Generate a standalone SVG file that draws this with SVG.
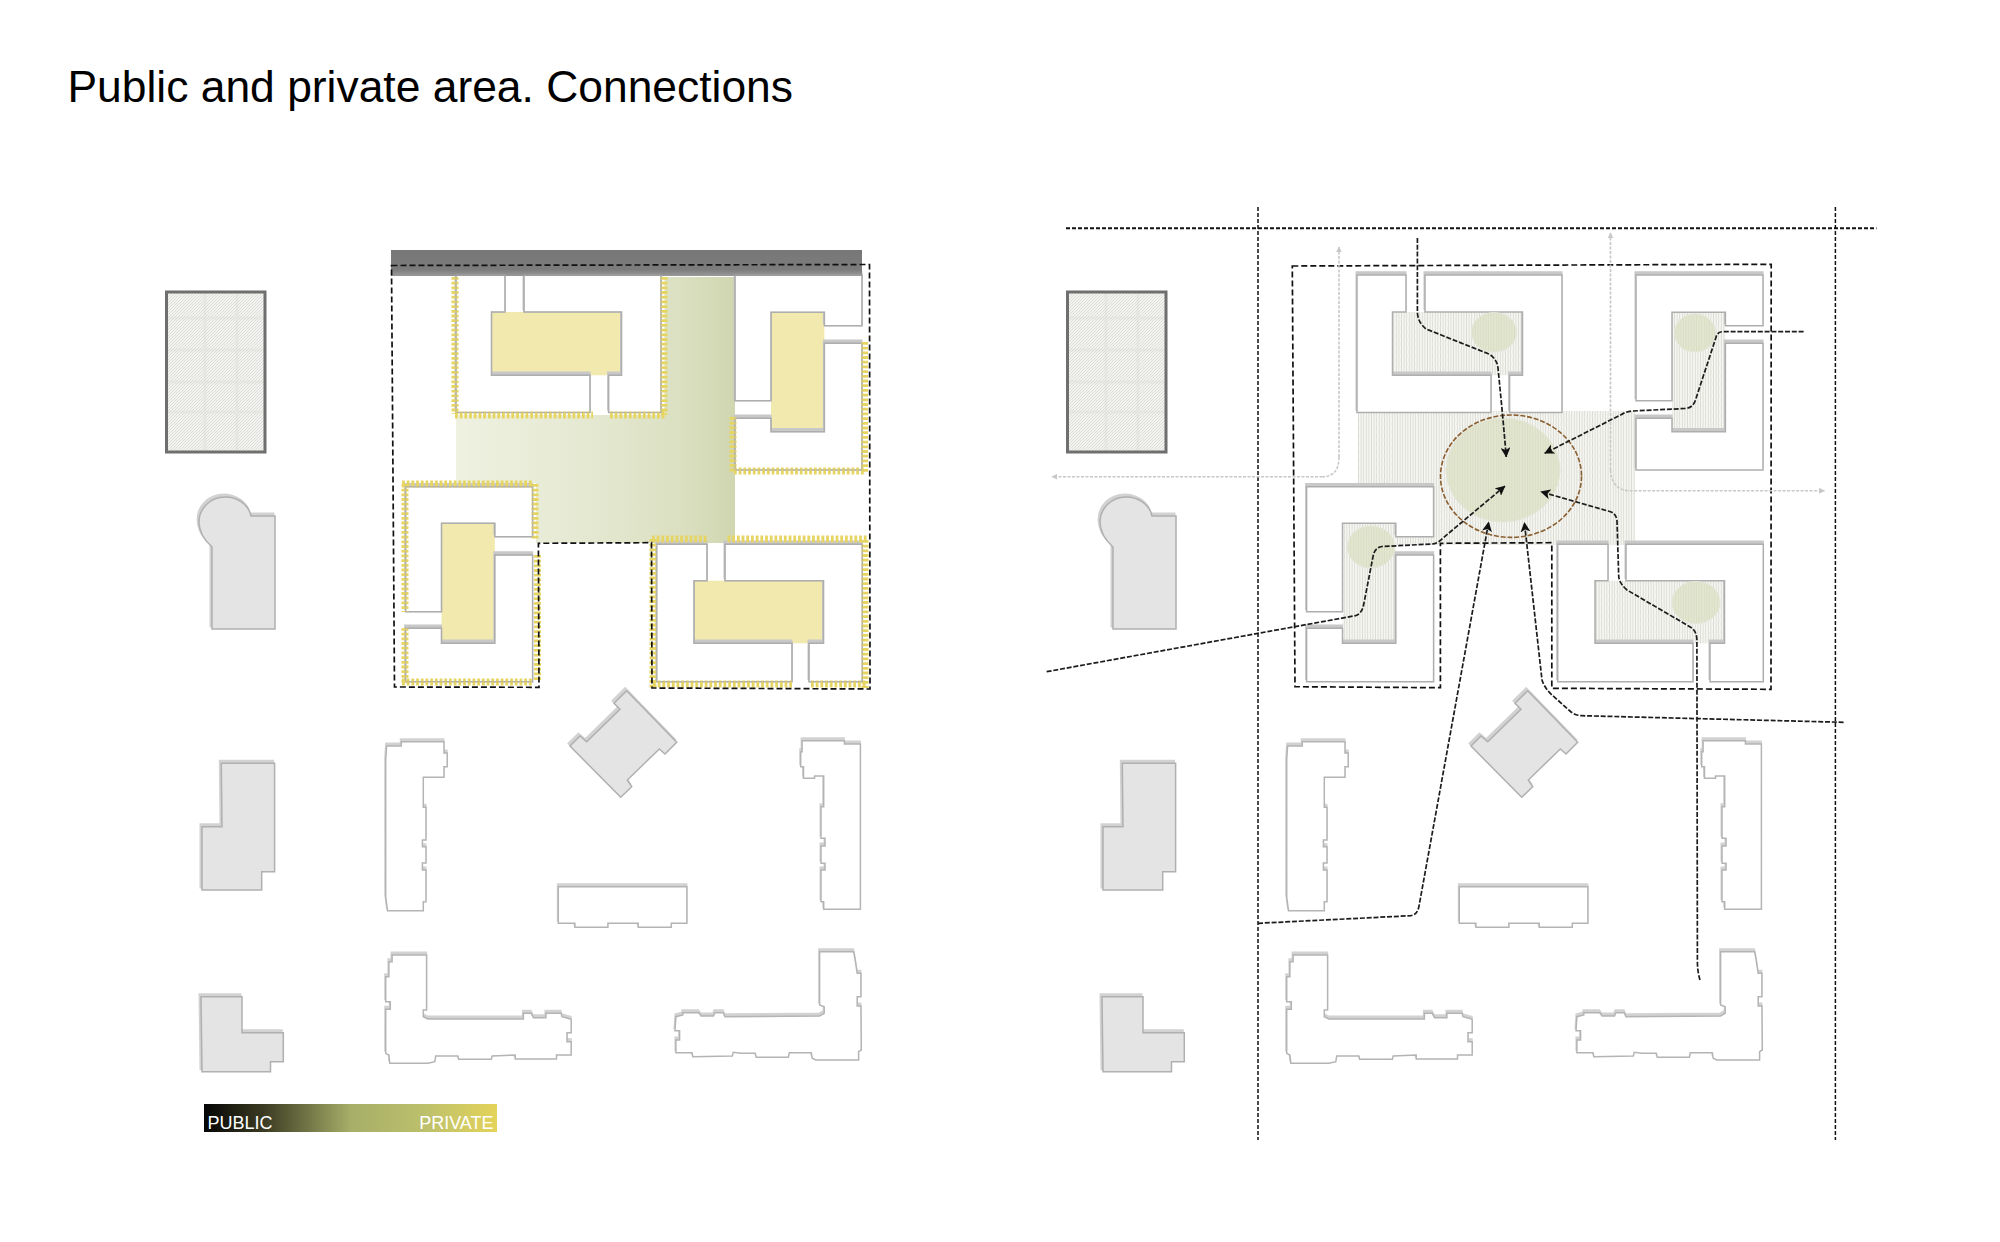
<svg xmlns="http://www.w3.org/2000/svg" xmlns:xlink="http://www.w3.org/1999/xlink" width="2000" height="1242" viewBox="0 0 2000 1242">
<style>
text{font-family:"Liberation Sans",Arial,sans-serif}
.title{font-size:44.4px;fill:#000}
.leg{font-size:18px;fill:#fff}
.hy{fill:none;stroke:#e6d562;stroke-width:7;stroke-dasharray:2.800 1.900}
.bd{fill:none;stroke:#111;stroke-width:1.700;stroke-dasharray:6 3}
.road{fill:none;stroke:#111;stroke-width:1.500;stroke-dasharray:4 2}
.rte{fill:none;stroke:#1c1c1c;stroke-width:1.700;stroke-dasharray:5 1.800}
.lg{fill:none;stroke:#c8c8c8;stroke-width:1.600;stroke-dasharray:3 1.500}
.tree{fill:url(#pTree);stroke:#e4e6d8;stroke-width:1}
.lat{stroke:#e0e0dc;stroke-width:3;fill:none}
</style>
<defs>
<linearGradient id="gFade" gradientUnits="userSpaceOnUse" x1="456" y1="0" x2="735" y2="0"><stop offset="0" stop-color="#eff1e1"/><stop offset=".5" stop-color="#e4e8d0"/><stop offset=".8" stop-color="#dbe0c2"/><stop offset="1" stop-color="#d0d6b0"/></linearGradient>
<linearGradient id="gLeg"><stop offset="0" stop-color="#050505"/><stop offset=".2" stop-color="#3a3a22"/><stop offset=".5" stop-color="#a6ae68"/><stop offset=".75" stop-color="#bcc06c"/><stop offset="1" stop-color="#e4d35a"/></linearGradient>
<linearGradient id="gBar" x1="0" y1="0" x2="0" y2="1"><stop offset="0" stop-color="#777"/><stop offset=".75" stop-color="#7c7c7c"/><stop offset="1" stop-color="#999"/></linearGradient>
<pattern id="pDiag" width="3" height="3" patternUnits="userSpaceOnUse"><rect width="3" height="3" fill="#f3f3f1"/><path d="M0 3L3 0" stroke="#d6d6d2" stroke-width=".8"/></pattern>
<pattern id="pVert" width="2.600" height="8" patternUnits="userSpaceOnUse"><rect width="2.600" height="8" fill="#f7f7f3"/><path d="M1 0Q1.800 4 1 8" fill="none" stroke="#dadad3" stroke-width=".9"/></pattern>
<pattern id="pTree" width="2.600" height="8" patternUnits="userSpaceOnUse"><rect width="2.600" height="8" fill="#e3e6d0"/><path d="M1 0Q1.800 4 1 8" fill="none" stroke="#d9ddc3" stroke-width=".9"/></pattern>
<marker id="ah" viewBox="0 0 10 10" refX="9.500" refY="5" markerWidth="10" markerHeight="10" markerUnits="userSpaceOnUse" orient="auto"><path d="M0 0L10 5L0 10L2.500 5z" fill="#111"/></marker>
<marker id="ahg" viewBox="0 0 10 10" refX="9" refY="5" markerWidth="6" markerHeight="6" markerUnits="userSpaceOnUse" orient="auto"><path d="M0 0L10 5L0 10z" fill="#c8c8c8"/></marker>
<g id="rectB"><rect x="166.500" y="292" width="98.500" height="160" fill="url(#pDiag)"/><path class="lat" d="M205 293V451M237 293V451M168 318H264M168 350H264M168 382H264M168 412H264" opacity=".5"/><rect x="166.500" y="292" width="98.500" height="160" fill="none" stroke="#6f6f6f" stroke-width="3"/></g>
<g id="gShapes">
<path d="M212 629V547C202 538 199 530 199 522C199 508 211 497 225 497C238 497 249 505 251 516H275V629Z"/>
<path d="M221.300 763.300H274.600V871.700H261.700V890H202V826.700H222Z"/>
<path d="M201 996.700H242V1032.700H283.300V1061.700H270.500V1071.700H202Z"/>
<path d="M626.700 690.700L676.700 742.300L665 754L659.300 749L627.300 780L631.700 786.700L620.700 797.300L570 746L580 736L586.700 741.700L620 709.300L614 703.300Z"/>
</g>
<g id="wShapes">
<path d="M386.600 746H401.300V741.700H444V753H447.200V766.700H444V777.300H423.300V807.300H426V840H422.400V846.700H426V863H422.400V870H426V901.700H423.300V910.700H387.500L385.700 897V760Z"/>
<path d="M558.300 886.700H686.900V923.300H671.300V927.300H638.200V923.300H607.900V927.300H574.900V923.300H558.300Z"/>
<path d="M802.100 740.700H844.400V744H860.400V909.300H823.700V901.700H821V870H825V863.300H821V846H825V838.300H821V806.700H823.700V776H814.500V778.300H803.500V766.700H800.700V751.700H802.100Z"/>
<path d="M392.100 955H426.600V1010H423.300V1016.700L427.900 1019H523.400V1013.300H531.200L533.500 1017.700H545.900V1013.300H561.100L562 1016.700L571.200 1019.300V1032.700H567V1041.700H571.200V1055H556.500V1059H515.200V1055L492.200 1056L491.300 1059.300H458.700L457.800 1056H435.700L434.800 1061.700L427.900 1063.300H389.800L388.900 1055L385.700 1053.300V1009.300H390.300V1001.700H385.700V976.700H388.900V961.700H392.100Z"/>
<path d="M819.600 951.700H853.600L854.900 958.300L857.200 973.300H860.900V996.700H857.200V1006H860.900L861.300 1050L858.600 1051.700V1060H815.900L812.200 1058.300L811.300 1052.700H789.300L788.400 1057.300H756.200L755.300 1053.300H741L733.300 1052.300L732.300 1056L692.900 1056.700L692 1052.700H675.900V1040H679.600V1030.700H675L675.900 1016.700L682.800 1015V1012.700H698.800L701.100 1016H713.500L714.900 1012.700H723.200L725 1016.700L819.600 1016L824.200 1013.300V1006.700L819.600 1005Z"/>
</g>
<g id="pieces">
<path d="M456 275H505V312H491.500V375.300H590V412.500H456Z"/>
<path d="M524 275H661V412.500H608.600V375.300H621.500V312H524Z"/>
<path d="M735 275H862V325.700H824.400V312.300H771V400.700H735Z"/>
<path d="M735 418.300H771V431.700H824.400V343.300H862V470H735Z"/>
<path d="M405.600 486.700H532.600V536.700H494.800V523.300H441.500V611.700H405.600Z"/>
<path d="M405.600 628.300H441.500V643.300H494.800V555H532.600V681.700H405.600Z"/>
<path d="M656.700 544.300H707V580.700H694V643.300H792V681.700H656.700Z"/>
<path d="M725 544.300H862.300V681.700H809V643.300H823.500V580.700H725Z"/>
</g>
<g id="courts">
<rect x="491.500" y="312" width="130" height="63.300"/>
<rect x="771" y="312.300" width="53.400" height="119.400"/>
<rect x="441.500" y="523.300" width="53.300" height="120"/>
<rect x="694" y="580.700" width="129.500" height="62.600"/>
</g>
<g id="site">
<use href="#gShapes" transform="translate(-1.500 -2.500)" fill="#d2d2d2" stroke="#d2d2d2" stroke-width="2"/>
<use href="#wShapes" transform="translate(-.5 -2.500)" fill="#d2d2d2" stroke="#d2d2d2" stroke-width="2"/>
<use href="#gShapes" fill="#e4e4e4" stroke="#b0b0b0" stroke-width="1.500"/>
<use href="#wShapes" fill="#fff" stroke="#b4b4b4" stroke-width="1.500"/>
<use href="#rectB"/>
</g>
<g id="blockOutlines">
<use href="#pieces" transform="translate(-.5 -2.800)" fill="#c8c8c8" stroke="#c8c8c8" stroke-width="2"/>
<use href="#pieces" fill="#fff" stroke="#aeaeae" stroke-width="1.500"/>
</g>
</defs>
<rect width="2000" height="1242" fill="#fff"/>
<text class="title" x="67.500" y="102">Public and private area. Connections</text>

<g id="plan-left">
<use href="#site"/>
<path id="public-gradient" d="M664.500 277H735V543H536V483H456V415H664.500Z" fill="url(#gFade)"/>
<use href="#courts" fill="#f2e9ae"/>
<use href="#blockOutlines"/>
<rect id="street-bar" x="391" y="250" width="471" height="26" fill="url(#gBar)"/>
<path class="hy" d="M455 277V414M455 415H593M610 415H665M664 277V415M864.500 342V472M734 471H865M733 417V472M402 484H533M535 484V540M405 484V612M405 628V683M402 682H533M537.500 555V682M652 539H708M727.500 539H867M653 539V688M653 684H792M811 684H867M865 540V688"/>
<use href="#pieces" fill="none" stroke="#aeaeae" stroke-width="1.200" opacity=".6"/>
<path class="bd" d="M391.500 265.500L869.500 264.500L870 689L652 688L651.500 542.700L538.400 543.300L539 687.300L394.500 687Z"/>
</g>

<g id="legend">
<rect x="204" y="1104" width="293" height="28" fill="url(#gLeg)"/>
<text class="leg" x="207.500" y="1128.500">PUBLIC</text>
<text class="leg" x="493.500" y="1128.500" text-anchor="end">PRIVATE</text>
</g>

<g id="plan-right">
<use href="#site" x="901"/>
<rect id="right-public" x="1358" y="411" width="277" height="134" fill="url(#pVert)"/>
<g transform="translate(901 0)">
<use href="#courts" fill="url(#pVert)"/>
<use href="#blockOutlines"/>
</g>
<g id="trees">
<ellipse class="tree" cx="1494" cy="332.300" rx="22.500" ry="19.700"/>
<ellipse class="tree" cx="1695" cy="333" rx="20.500" ry="19"/>
<ellipse class="tree" cx="1371" cy="547" rx="23.600" ry="21"/>
<ellipse class="tree" cx="1696" cy="602.500" rx="24" ry="21"/>
<ellipse class="tree" cx="1503" cy="470" rx="57" ry="52"/>
</g>
<ellipse id="plaza-ring" cx="1511" cy="476.200" rx="70.500" ry="61.200" fill="none" stroke="#8a5f30" stroke-width="1.600" stroke-dasharray="5 1.800"/>
<path class="bd" d="M1292.300 266L1771.200 264.300L1771 689.300L1551.800 688.300V542.700L1440.400 543.300V687.700L1295 686.700Z"/>
</g>

<g id="connectors">
<path class="road" d="M1258 207V1140M1835.400 207V1140"/>
<path class="road" style="stroke-width:2" d="M1066 228.300H1876.500"/>
<path class="lg" marker-end="url(#ahg)" d="M1339 457V247"/>
<path class="lg" d="M1339 457Q1339 476.700 1322.500 476.700"/>
<path class="lg" marker-end="url(#ahg)" d="M1322.500 476.700H1052"/>
<path class="lg" marker-end="url(#ahg)" d="M1610.500 470V233"/>
<path class="lg" marker-end="url(#ahg)" d="M1610.500 470Q1612 490.700 1630 490.700H1824.500"/>
<path class="rte" marker-end="url(#ah)" d="M1417.400 238V312Q1417.500 322 1426 329L1489 354Q1497 359 1498 368L1502.400 413L1506.300 457"/>
<path class="rte" marker-end="url(#ah)" d="M1803.600 331.700H1723Q1717 331.700 1715.800 338L1695.500 400Q1693 408 1685 408.500L1632.400 411Q1626 411.500 1621.500 414.500L1544.700 453.300"/>
<path class="rte" marker-end="url(#ah)" d="M1046.600 671.700L1355.400 615.700Q1362 613.500 1363.600 605L1373 556.700Q1374.500 547.500 1382 546.500L1432.200 544Q1438 543.500 1443 538L1505 486"/>
<path class="rte" marker-end="url(#ah)" d="M1258 923.300L1410.800 915.700Q1417.500 914.500 1418.900 906.700L1488.700 522"/>
<path class="rte" marker-end="url(#ah)" d="M1843.600 722.300L1582 715.700Q1575 715.500 1570 711L1552 695Q1544.500 688 1542 680L1524.400 522.500"/>
<path class="rte" marker-end="url(#ah)" d="M1700 980Q1697.500 972 1697.400 962L1696.900 640Q1696.900 632.500 1692 628L1627 590Q1619 583 1618.700 576L1617 521Q1616.500 514 1610.500 511.700L1540.800 491.700"/>
</g>
</svg>
